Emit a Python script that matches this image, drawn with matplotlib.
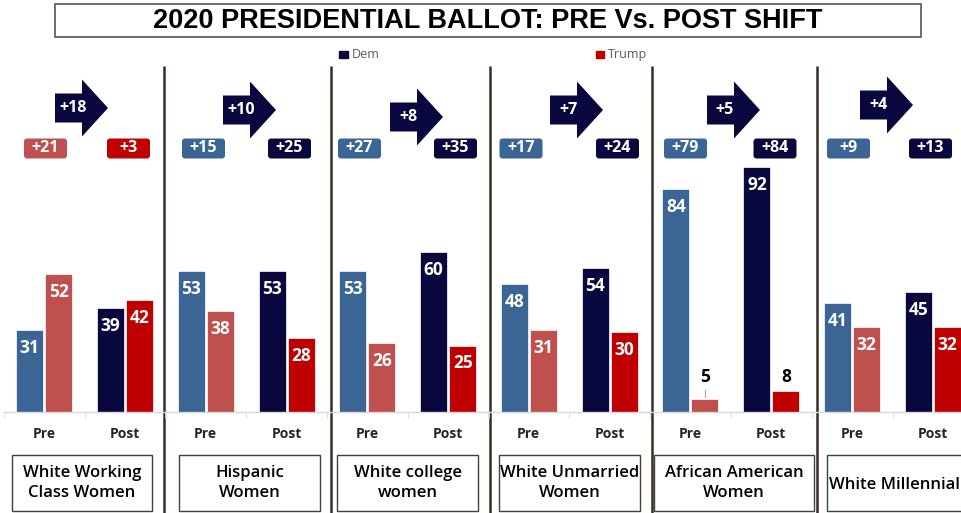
import matplotlib
matplotlib.use("Agg")
import matplotlib.pyplot as plt
from matplotlib.patches import Polygon, FancyBboxPatch, Rectangle

# ---------------- data ----------------
groups = ["White Working\nClass Women", "Hispanic\nWomen", "White college\nwomen",
          "White Unmarried\nWomen", "African American\nWomen", "White Millennial"]
categories = ["Pre", "Post"]
pre_dem = [31, 53, 53, 48, 84, 41]
pre_trump = [52, 38, 26, 31, 5, 32]
post_dem = [39, 53, 60, 54, 92, 45]
post_trump = [42, 28, 25, 30, 8, 32]
pre_margin = ["+21", "+15", "+27", "+17", "+79", "+9"]
post_margin = ["+3", "+25", "+35", "+24", "+84", "+13"]
shift = ["+18", "+10", "+8", "+7", "+5", "+4"]
title = "2020 PRESIDENTIAL BALLOT: PRE Vs. POST SHIFT"

# ---------------- style / layout ----------------
C_PRE_DEM = "#3A6595"
C_PRE_TRUMP = "#C0504D"
C_POST_DEM = "#08083F"
C_POST_TRUMP = "#C00000"
C_SEP = "#3A2C24"

W, H = 961, 513
fig = plt.figure(figsize=(W / 100, H / 100), dpi=100)
ov = fig.add_axes([0, 0, 1, 1])
ov.set_xlim(0, W)
ov.set_ylim(H, 0)
ov.axis("off")

FONT_NUM = ["Open Sans", "DejaVu Sans"]
FONT_TXT = ["Open Sans", "DejaVu Sans"]

# title box
ov.add_patch(Rectangle((55, 4), 866, 33, fill=False, ec="#555555", lw=1.2))
ov.text(488, 21.5, title, ha="center", va="center", fontsize=19.5, fontweight="bold",
        family=["Liberation Sans", "DejaVu Sans"], color="black")

# legend
ov.add_patch(Rectangle((339, 51), 9, 7, color=C_POST_DEM))
ov.text(352, 54.5, "Dem", ha="left", va="center", fontsize=9, color="#595959", family=FONT_TXT)
ov.add_patch(Rectangle((596, 51), 8, 7, color=C_POST_TRUMP))
ov.text(608, 54.5, "Trump", ha="left", va="center", fontsize=9, color="#595959", family=FONT_TXT)

# separators
for sx in [164, 331, 490, 652, 817]:
    ov.plot([sx, sx], [66, H], color=C_SEP, lw=1.8, solid_capstyle="butt")

# layout lists
arrow_left = [55, 223, 390, 550, 707, 860]
arrow_cy = [108, 110, 117, 110, 110, 105]
badge_pre_cx = [45.5, 203.5, 359.5, 521, 685.5, 848.5]
badge_post_cx = [128.5, 289.5, 455.5, 617.5, 775, 930.5]
box_x = [(12, 152), (179, 320), (337, 478), (499, 640), (654, 814), (827, 975)]

baseline_px = 412
px_per_unit = 2.66
panel_w = 162
ymax = 100

for k in range(len(groups)):
    # arrow
    L, cy = arrow_left[k], arrow_cy[k]
    pts = [(L, cy - 14.5), (L + 27, cy - 14.5), (L + 27, cy - 28.5), (L + 53, cy),
           (L + 27, cy + 28.5), (L + 27, cy + 14.5), (L, cy + 14.5)]
    ov.add_patch(Polygon(pts, closed=True, color=C_POST_DEM, lw=0))
    ov.text(L + 18, cy, shift[k], ha="center", va="center", color="white",
            fontsize=11.5, fontweight="bold", family=FONT_NUM)

    # badges
    dem_lead_pre = pre_dem[k] >= pre_trump[k]
    dem_lead_post = post_dem[k] >= post_trump[k]
    for cx, txt, col in [(badge_pre_cx[k], pre_margin[k], C_PRE_DEM if dem_lead_pre else C_PRE_TRUMP),
                         (badge_post_cx[k], post_margin[k], C_POST_DEM if dem_lead_post else C_POST_TRUMP)]:
        ov.add_patch(FancyBboxPatch((cx - 20, 140), 40, 17,
                                    boxstyle="round,pad=1.5,rounding_size=3",
                                    fc=col, ec=col, lw=0))
        ov.text(cx, 148.5, txt, ha="center", va="center", color="white",
                fontsize=11.5, fontweight="bold", family=FONT_NUM)

    # group label box
    x0, x1 = box_x[k]
    ov.add_patch(Rectangle((x0, 455), x1 - x0, 56, fill=False, ec="#404040", lw=1.0))
    if k < 5:
        ov.text((x0 + x1) / 2, 483, groups[k], ha="center", va="center", fontsize=12,
                fontweight="semibold", color="black", family=FONT_TXT, linespacing=1.3)
    else:
        ov.text(x0 + 2, 485, groups[k], ha="left", va="center", fontsize=12,
                fontweight="semibold", color="black", family=FONT_TXT)

    # bar axes
    left_px = 3.5 + 161.6 * k
    ax = fig.add_axes([left_px / W, (H - baseline_px) / H, panel_w / W,
                       ymax * px_per_unit / H])
    ax.patch.set_alpha(0)
    ax.set_xlim(0, 2)
    ax.set_ylim(0, ymax)
    bw = 27 / 81
    off = 14.5 / 81
    xs = [0.5, 1.5]
    series = [
        (xs[0] - off, pre_dem[k], C_PRE_DEM),
        (xs[0] + off, pre_trump[k], C_PRE_TRUMP),
        (xs[1] - off, post_dem[k], C_POST_DEM),
        (xs[1] + off, post_trump[k], C_POST_TRUMP),
    ]
    for x, v, c in series:
        ax.bar(x, v, width=bw, color=c, edgecolor="white", linewidth=0.5)
        if v >= 15:
            ax.annotate(str(v), (x, v), xytext=(0, -18), textcoords="offset pixels",
                        ha="center", va="center", color="white", fontsize=12.5,
                        fontweight="bold", family=FONT_NUM)
        else:
            ly = 13.2
            ax.text(x, ly, str(v), ha="center", va="center", color="black",
                    fontsize=12.5, fontweight="bold", family=FONT_NUM)
            if ly - v > 6:
                ax.plot([x, x], [v + 0.8, v + 3.2], color="#A6A6A6", lw=0.8)

    for s in ["top", "left", "right"]:
        ax.spines[s].set_visible(False)
    ax.spines["bottom"].set_color("#D9D9D9")
    ax.spines["bottom"].set_linewidth(1.0)
    ax.set_yticks([])
    ax.set_xticks(xs)
    ax.set_xticklabels(categories, fontsize=10, fontweight="bold",
                       family=FONT_TXT, color="#262626")
    ax.set_xticks([0, 1, 2], minor=True)
    ax.tick_params(axis="x", which="major", length=0, pad=10.5)
    ax.tick_params(axis="x", which="minor", length=4, color="#D9D9D9")

fig.savefig("out.png", dpi=100)
